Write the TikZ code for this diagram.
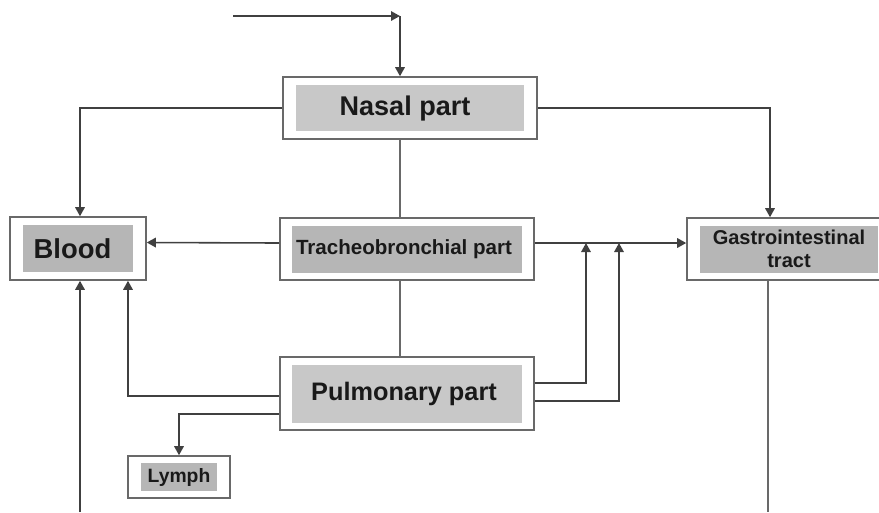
\documentclass[tikz,border=0pt]{standalone}
\usepackage{fontspec}
\setmainfont{Liberation Sans}
\usepackage{xcolor}
\usepackage{tikz}
\usetikzlibrary{arrows.meta,positioning}
\definecolor{FrameGray}{RGB}{105,105,105}
\definecolor{LightFill}{RGB}{200,200,200}
\definecolor{DarkFill}{RGB}{182,182,182}
\definecolor{TextBlack}{RGB}{25,25,25}

\tikzset{
  frame/.style={rectangle,draw=FrameGray,fill=white,line width=0.9pt,inner sep=0pt},
  filling/.style={rectangle,inner sep=0pt,text=TextBlack,align=center},
  link/.style={line width=0.9pt,color=FrameGray},
  arrow/.style={link,-{Triangle[length=0.18cm,width=0.19cm]},color=black!75}
}

\begin{document}
\begin{tikzpicture}[x=0.02cm,y=-0.02cm]
    \clip (0,0) rectangle (879,512);

    % Outer frames of the compartments
    \node[frame,minimum width=5.08cm,minimum height=1.24cm] (nasal) at (410,108) {};
    \node[frame,minimum width=2.72cm,minimum height=1.26cm] (blood) at (78,248.5) {};
    \node[frame,minimum width=5.08cm,minimum height=1.24cm] (trachea) at (407,249) {};
    \node[frame,minimum width=4.08cm,minimum height=1.24cm] (gastro) at (789,249) {};
    \node[frame,minimum width=5.08cm,minimum height=1.46cm] (pulm) at (407,393.5) {};
    \node[frame,minimum width=2.04cm,minimum height=0.84cm] (lymph) at (179,477) {};

    % Grey inner fields with the labels
    \node[filling,fill=LightFill,minimum width=4.58cm,minimum height=0.92cm,font=\bfseries\fontsize{15.4}{18}\selectfont] (nasal-in) at (nasal) {Nasal part\hspace*{0.2cm}};
    \node[filling,fill=DarkFill,minimum width=2.22cm,minimum height=0.94cm,font=\bfseries\fontsize{15.6}{18}\selectfont] (blood-in) at (blood) {Blood\hspace*{0.22cm}};
    \node[filling,fill=DarkFill,minimum width=4.6cm,minimum height=0.94cm,font=\bfseries\fontsize{11.7}{14}\selectfont] (trachea-in) at (trachea) {Tracheobronchial part\hspace*{0.12cm}};
    \node[filling,fill=DarkFill,minimum width=3.56cm,minimum height=0.94cm,font=\bfseries\fontsize{11.4}{13.4}\selectfont] (gastro-in) at (gastro) {Gastrointestinal\\tract};
    \node[filling,fill=LightFill,minimum width=4.6cm,minimum height=1.16cm,font=\bfseries\fontsize{14.4}{17}\selectfont] (pulm-in) at (pulm) {Pulmonary part\hspace*{0.12cm}};
    \node[filling,fill=DarkFill,minimum width=1.54cm,minimum height=0.56cm,font=\bfseries\fontsize{11}{13}\selectfont] (lymph-in) at (lymph) {Lymph};

    % Free ends and junctions
    \coordinate (intake) at (233,16);
    \coordinate (knee) at (400,16);
    \coordinate (j1) at (586,243);
    \coordinate (j2) at (619,243);
    \coordinate (bloodin) at (80,512);
    \coordinate (giout) at (768,512);

    % Connectors
    \draw[arrow] (intake) -- (knee);
    \draw[arrow] (knee) -- (knee |- nasal.north);
    \draw[arrow] (nasal.west) -| ([xshift=0.04cm]blood.north);
    \draw[arrow] (nasal.east) -| ([xshift=-0.38cm]gastro.north);
    \draw[link] (nasal.south -| knee) -- (trachea.north -| knee);
    \draw[arrow] ([yshift=0.12cm]trachea.west) -- ([yshift=0.12cm]blood.east);
    \draw[arrow] ([yshift=0.12cm]trachea.east) -- ([yshift=0.12cm]gastro.west);
    \draw[link] (trachea.south -| knee) -- (pulm.north -| knee);
    \draw[arrow] ([yshift=-0.05cm]pulm.west) -| ([xshift=1cm]blood.south);
    \draw[arrow] ([yshift=-0.41cm]pulm.west) -| (lymph.north);
    \draw[arrow] ([yshift=0.21cm]pulm.east) -| (j1);
    \draw[arrow] ([yshift=-0.15cm]pulm.east) -| (j2);
    \draw[arrow] (bloodin) -- (blood.south -| bloodin);
    \draw[link] (gastro.south -| giout) -- (giout);
\end{tikzpicture}
\end{document}
